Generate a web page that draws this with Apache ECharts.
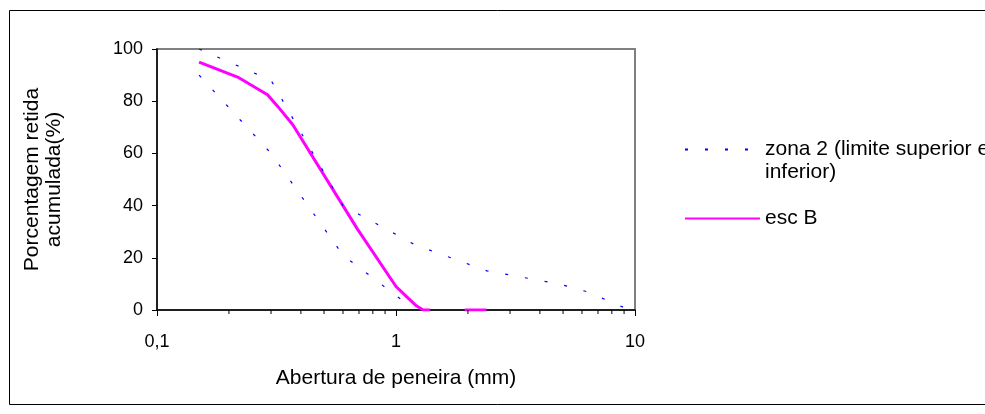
<!DOCTYPE html>
<html>
<head>
<meta charset="utf-8">
<script src="https://cdn.jsdelivr.net/npm/echarts@6/dist/echarts.min.js"></script>
<style>
  html, body { margin: 0; padding: 0; background: #fff; }
  #chart { width: 985px; height: 414px; }
</style>
</head>
<body>
<div id="chart"></div>
<script>
// sieve openings (mm) and cumulative retained (%)
const zoneSieves = [0.15, 0.3, 0.6, 1.2, 2.4, 4.8, 6.3, 9.5]
const zoneUpper = [100, 88, 40, 25, 15, 10, 7, 0]
const lowerSieves = [0.15, 0.3, 0.6, 1.2]
const zoneLower = [90, 60, 21, 0]
const escSieves = [0.15, 0.22, 0.29, 0.32, 0.37, 0.69, 1.0, 1.11, 1.22, 1.3, 1.39, 1.6, 1.94, 2.39]
const escB = [95, 89, 82.5, 78, 71, 31, 9, 5, 1.5, 0, 0, '-', 0, 0]
const minorTicks = [0.2, 0.3, 0.4, 0.5, 0.6, 0.7, 0.8, 0.9, 2, 3, 4, 5, 6, 7, 8, 9]

const ZONE = 'zona 2 (limite superior e inferior)'
const FONT = 'Liberation Sans, Arial, sans-serif'

const pairs = (xs, ys) => xs.map((x, i) => [x, ys[i]])

const chart = echarts.init(document.getElementById('chart'))
chart.setOption({
  backgroundColor: '#fff',
  animation: false,
  textStyle: { fontFamily: FONT, color: '#000' },
  graphic: [{
    type: 'rect',
    silent: true,
    shape: { x: 9.5, y: 10.5, width: 1000, height: 394 },
    style: { fill: 'none', stroke: '#000', lineWidth: 1 }
  }],
  grid: {
    left: 157,
    right: 350,
    top: 49,
    bottom: 104,
    show: true,
    borderColor: '#808080',
    borderWidth: 2
  },
  legend: [{
    left: 684,
    top: 115,
    padding: 0,
    orient: 'vertical',
    itemWidth: 75,
    itemHeight: 14,
    data: [ZONE],
    itemStyle: { opacity: 0 },
    // blank first line keeps the icon level with the first text line
    formatter: () => '\nzona 2 (limite superior e\ninferior)',
    textStyle: { fontSize: 21, color: '#000', lineHeight: 23, fontFamily: FONT }
  }, {
    left: 684,
    top: 207,
    padding: 0,
    itemWidth: 75,
    itemHeight: 14,
    data: ['esc B'],
    itemStyle: { opacity: 0 },
    textStyle: { fontSize: 21, color: '#000', lineHeight: 23, fontFamily: FONT }
  }],
  xAxis: {
    type: 'log',
    logBase: 10,
    min: 0.1,
    max: 10,
    name: 'Abertura de peneira (mm)',
    nameLocation: 'middle',
    nameGap: 58,
    nameTextStyle: { fontSize: 21, color: '#000' },
    axisLine: { lineStyle: { color: '#000', width: 1.5 } },
    axisTick: { show: true, length: 6, lineStyle: { color: '#000' } },
    axisLabel: {
      fontSize: 18,
      color: '#000',
      margin: 23,
      formatter: v => String(v).replace('.', ',')
    },
    splitLine: { show: false }
  },
  yAxis: {
    type: 'value',
    min: 0,
    max: 100,
    interval: 20,
    name: 'Porcentagem retida\nacumulada(%)',
    nameLocation: 'middle',
    nameGap: 92,
    nameTextStyle: { fontSize: 21, color: '#000', lineHeight: 22 },
    axisLine: { show: true, lineStyle: { color: '#000', width: 1.5 } },
    axisTick: { show: true, length: 5, lineStyle: { color: '#000' } },
    axisLabel: { fontSize: 18, color: '#000', margin: 14 },
    splitLine: { show: false }
  },
  series: [
    {
      name: 'esc B',
      type: 'line',
      showSymbol: false,
      symbol: 'none',
      connectNulls: false,
      z: 3,
      lineStyle: { color: '#FF00FF', width: 3 },
      itemStyle: { color: '#FF00FF' },
      data: pairs(escSieves, escB)
    },
    {
      name: ZONE,
      type: 'line',
      showSymbol: false,
      symbol: 'none',
      z: 4,
      lineStyle: { color: '#0000FF', width: 1.2, type: [3, 17] },
      itemStyle: { color: '#0000FF' },
      data: pairs(zoneSieves, zoneUpper)
    },
    {
      name: ZONE,
      type: 'line',
      showSymbol: false,
      symbol: 'none',
      z: 4,
      lineStyle: { color: '#0000FF', width: 1.2, type: [3, 17] },
      itemStyle: { color: '#0000FF' },
      data: pairs(lowerSieves, zoneLower)
    },
    {
      // minor ticks of the log axis
      type: 'custom',
      silent: true,
      clip: false,
      z: 5,
      data: minorTicks.map(v => [v, 0]),
      renderItem: (params, api) => {
        const p = api.coord([api.value(0), 0])
        return {
          type: 'line',
          shape: { x1: p[0], y1: p[1], x2: p[0], y2: p[1] + 4 },
          style: { stroke: '#000', lineWidth: 1 }
        }
      }
    }
  ]
})
</script>
</body>
</html>
